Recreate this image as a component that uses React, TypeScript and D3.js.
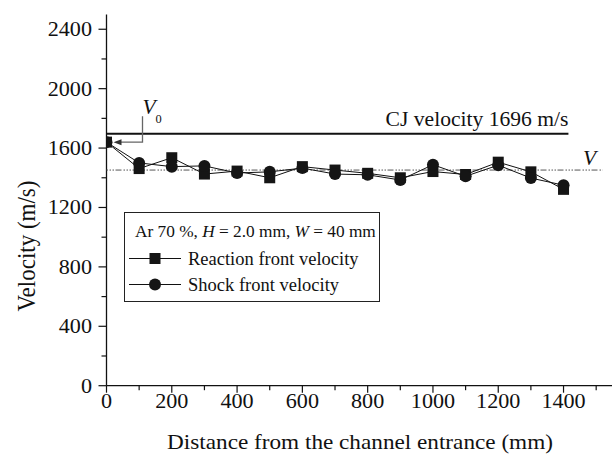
import React, { useRef, useEffect } from 'react';
import * as d3 from 'd3';

// distance from channel entrance (mm)
const distance = [0, 100, 200, 300, 400, 500, 600, 700, 800, 900, 1000, 1100, 1200, 1300, 1400];
// reaction front velocity (m/s), square markers
const reactionVelocity = [1640, 1462, 1535, 1425, 1445, 1400, 1475, 1452, 1430, 1400, 1442, 1422, 1505, 1440, 1322];
// shock front velocity (m/s), circle markers
const shockVelocity = [1640, 1500, 1475, 1480, 1432, 1440, 1465, 1425, 1420, 1385, 1488, 1410, 1485, 1398, 1350];

const xMajorTicks = [0, 200, 400, 600, 800, 1000, 1200, 1400];
const xMinorTicks = [100, 300, 500, 700, 900, 1100, 1300, 1500];
const yMajorTicks = [0, 400, 800, 1200, 1600, 2000, 2400];
const yMinorTicks = [200, 600, 1000, 1400, 1800, 2200];

const cjVelocity = 1696;
const cjLabel = 'CJ velocity 1696 m/s';
const meanVelocity = 1452;

const FONT = '"Liberation Serif", "Times New Roman", serif';
const SX = 1.08; // text in the figure is slightly wide

function drawChart(reference) {
  const width = 612, height = 459;

  d3.select(reference.current).selectAll('*').remove();

  const svg = d3.select(reference.current)
                .append('svg')
                .attr('width', width)
                .attr('height', height)
                .style('position', 'absolute')
                .style('left', 0)
                .style('top', 0)
                .style('background', '#fff')
                .attr('font-family', FONT);

  const x = d3.scaleLinear().domain([0, 1550]).range([106.5, 612.5]);
  const y = d3.scaleLinear().domain([0, 2500]).range([385.7, 14.4]);

  const text = (g, str, tx, ty, size, anchor = 'start', sx = SX) =>
    g.append('text')
     .attr('transform', `translate(${tx},${ty}) scale(${sx},1)`)
     .attr('font-size', size)
     .attr('text-anchor', anchor)
     .attr('fill', '#111')
     .text(str);

  // axes lines
  svg.append('line')
     .attr('x1', x(0)).attr('x2', x(0))
     .attr('y1', y(2500)).attr('y2', y(0))
     .attr('stroke', '#111').attr('stroke-width', 1.3);
  svg.append('line')
     .attr('x1', x(0)).attr('x2', x(1550))
     .attr('y1', y(0)).attr('y2', y(0))
     .attr('stroke', '#111').attr('stroke-width', 1.3);

  // y ticks
  svg.selectAll('.ymaj').data(yMajorTicks).join('line')
     .attr('x1', x(0) - 8).attr('x2', x(0))
     .attr('y1', d => y(d)).attr('y2', d => y(d))
     .attr('stroke', '#111').attr('stroke-width', 1.2);
  svg.selectAll('.ymin').data(yMinorTicks).join('line')
     .attr('x1', x(0) - 5).attr('x2', x(0))
     .attr('y1', d => y(d)).attr('y2', d => y(d))
     .attr('stroke', '#111').attr('stroke-width', 1.2);
  const yLabels = svg.append('g');
  yMajorTicks.forEach(d => text(yLabels, String(d), 92, y(d) + 7, 20.5, 'end'));

  // x ticks
  svg.selectAll('.xmaj').data(xMajorTicks).join('line')
     .attr('x1', d => x(d)).attr('x2', d => x(d))
     .attr('y1', y(0)).attr('y2', y(0) + 7)
     .attr('stroke', '#111').attr('stroke-width', 1.2);
  svg.selectAll('.xmin').data(xMinorTicks).join('line')
     .attr('x1', d => x(d)).attr('x2', d => x(d))
     .attr('y1', y(0)).attr('y2', y(0) + 4.5)
     .attr('stroke', '#111').attr('stroke-width', 1.2);
  const xLabels = svg.append('g');
  xMajorTicks.forEach(d => text(xLabels, String(d), x(d), 408, 20.5, 'middle'));

  // axis titles
  text(svg, 'Distance from the channel entrance (mm)', 360, 449, 21.5, 'middle');
  svg.append('text')
     .attr('transform', `translate(35,246) rotate(-90) scale(1,${SX})`)
     .attr('font-size', 23)
     .attr('text-anchor', 'middle')
     .attr('fill', '#111')
     .text('Velocity (m/s)');

  // CJ velocity line
  svg.append('line')
     .attr('x1', x(0)).attr('x2', x(1415))
     .attr('y1', y(cjVelocity)).attr('y2', y(cjVelocity))
     .attr('stroke', '#111').attr('stroke-width', 2);
  text(svg, cjLabel, x(1415), y(cjVelocity) - 8, 20, 'end');

  // mean velocity V
  svg.append('line')
     .attr('x1', x(0)).attr('x2', x(1520))
     .attr('y1', y(meanVelocity)).attr('y2', y(meanVelocity))
     .attr('stroke', '#555').attr('stroke-width', 1)
     .attr('stroke-dasharray', '1.5 1.5 1.5 1.5 1.5 1.5 6 2');
  text(svg, 'V', x(1460), y(meanVelocity) - 5, 20).attr('font-style', 'italic');

  // V0 annotation
  const v0y = y(reactionVelocity[0]);
  const tipX = x(0) + 7, elbowX = x(0) + 36;
  svg.append('path')
     .attr('d', `M${tipX + 6},${v0y} L${elbowX},${v0y} L${elbowX},${v0y - 26}`)
     .attr('fill', 'none').attr('stroke', '#666').attr('stroke-width', 1.3);
  svg.append('path')
     .attr('d', `M${tipX},${v0y} L${tipX + 8},${v0y - 3} L${tipX + 8},${v0y + 3} Z`)
     .attr('fill', '#333');
  text(svg, 'V', elbowX, v0y - 28, 20).attr('font-style', 'italic');
  text(svg, '0', elbowX + 13, v0y - 19, 11.5);

  // data series
  const plot = svg.append('g');
  svg.append('clipPath').attr('id', 'plotclip')
     .append('rect')
     .attr('x', x(0)).attr('y', 0)
     .attr('width', width - x(0)).attr('height', y(0));
  plot.attr('clip-path', 'url(#plotclip)');

  const line = d3.line()
                 .x((d, i) => x(distance[i]))
                 .y(d => y(d));

  plot.append('path').datum(reactionVelocity)
      .attr('d', line).attr('fill', 'none')
      .attr('stroke', '#111').attr('stroke-width', 1);
  plot.append('path').datum(shockVelocity)
      .attr('d', line).attr('fill', 'none')
      .attr('stroke', '#111').attr('stroke-width', 1);

  const sq = 11;
  plot.selectAll('.sq').data(reactionVelocity).join('rect')
      .attr('x', (d, i) => x(distance[i]) - sq / 2)
      .attr('y', d => y(d) - sq / 2)
      .attr('width', sq).attr('height', sq)
      .attr('fill', '#151515');
  plot.selectAll('.ci').data(shockVelocity).join('circle')
      .attr('cx', (d, i) => x(distance[i]))
      .attr('cy', d => y(d))
      .attr('r', 6)
      .attr('fill', '#151515');

  // legend
  const lg = svg.append('g');
  lg.append('rect')
    .attr('x', 124.5).attr('y', 212.5)
    .attr('width', 255).attr('height', 89)
    .attr('fill', '#fff').attr('stroke', '#222').attr('stroke-width', 1);

  const t1 = lg.append('text')
               .attr('x', 135).attr('y', 237)
               .attr('font-size', 17.3).attr('fill', '#111');
  t1.append('tspan').text('Ar 70 %, ');
  t1.append('tspan').attr('font-style', 'italic').text('H');
  t1.append('tspan').text(' = 2.0 mm, ');
  t1.append('tspan').attr('font-style', 'italic').text('W');
  t1.append('tspan').text(' = 40 mm');

  const rows = [
    { label: 'Reaction front velocity', marker: 'square', base: 265 },
    { label: 'Shock front velocity', marker: 'circle', base: 291 }
  ];
  rows.forEach(r => {
    const cy = r.base - 6.5;
    lg.append('line')
      .attr('x1', 129).attr('x2', 181)
      .attr('y1', cy).attr('y2', cy)
      .attr('stroke', '#111').attr('stroke-width', 1.2);
    if (r.marker === 'square') {
      lg.append('rect')
        .attr('x', 155 - 5.5).attr('y', cy - 5.5)
        .attr('width', 11).attr('height', 11).attr('fill', '#151515');
    } else {
      lg.append('circle')
        .attr('cx', 155).attr('cy', cy).attr('r', 6).attr('fill', '#151515');
    }
    text(lg, r.label, 188, r.base, 18.5, 'start', 1);
  });
}

export default function App() {
  const chart = useRef(null);

  useEffect(() => {
    drawChart(chart);
  }, []);

  return <div ref={chart}></div>;
}
